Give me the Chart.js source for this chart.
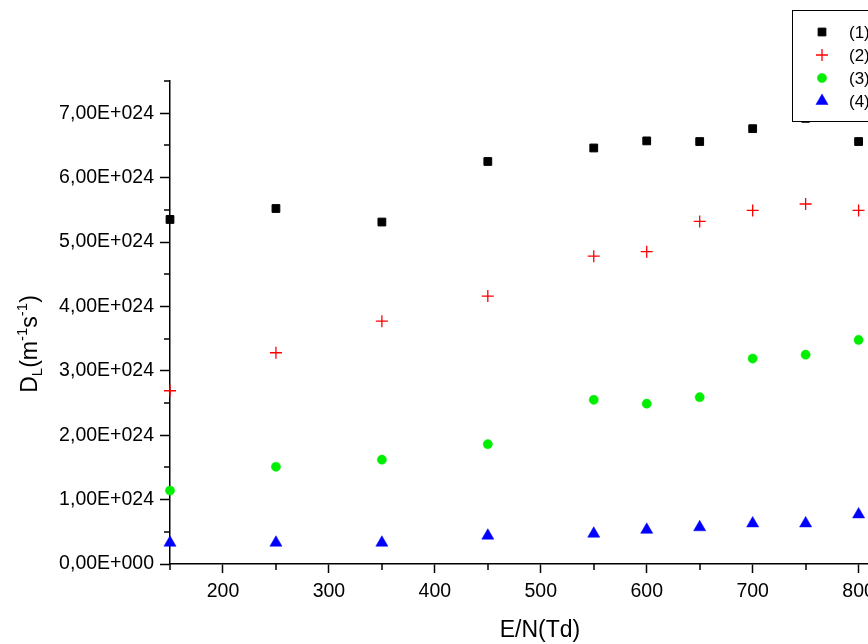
<!DOCTYPE html>
<html lang="pt">
<head>
    <meta charset="UTF-8">
    <script src="https://cdn.jsdelivr.net/npm/chart.js"></script>
    <title>D_L x E/N</title>
    <style>
        html, body { margin: 0; padding: 0; background: #fff; overflow: hidden; }
        #grafico { display: block; }
    </style>
</head>
<body>
    <canvas id="grafico" width="900" height="644"></canvas>

<script>
    // E/N (Td)
    const campos = [150, 250, 350, 450, 550, 600, 650, 700, 750, 800];

    // D_L (m-1 s-1)
    const serie1 = [5.35e24, 5.52e24, 5.31e24, 6.25e24, 6.46e24, 6.57e24, 6.56e24, 6.76e24, 6.92e24, 6.56e24];
    const serie2 = [2.69e24, 3.28e24, 3.77e24, 4.16e24, 4.78e24, 4.85e24, 5.32e24, 5.49e24, 5.59e24, 5.49e24];
    const serie3 = [1.14e24, 1.51e24, 1.62e24, 1.86e24, 2.55e24, 2.49e24, 2.59e24, 3.19e24, 3.25e24, 3.48e24];
    const serie4 = [0.33e24, 0.33e24, 0.33e24, 0.44e24, 0.47e24, 0.53e24, 0.57e24, 0.63e24, 0.63e24, 0.77e24];

    const nomes = ['(1)', '(2)', '(3)', '(4)'];

    const fonte = 'Liberation Sans, Arial, sans-serif';
</script>

<script>
    function pontos(valores) {
        return campos.map(function (x, i) { return { x: x, y: valores[i] }; });
    }

    // 7,00E+024
    function formato(v) {
        const n = Math.round(v / 1e24 * 2) / 2;
        if (n === 0) return '0,00E+000';
        return n.toFixed(2).replace('.', ',') + 'E+024';
    }

    function menorY(v) { return Math.round(v / 5e23) % 2 !== 0; }
    function menorX(v) { return v % 100 !== 0; }

    const dados = {
        datasets: [{
            label: nomes[0],
            data: pontos(serie1),
            pointStyle: 'rect',
            pointRadius: 5.5,
            borderWidth: 1,
            backgroundColor: '#000000',
            borderColor: '#000000'
        }, {
            label: nomes[1],
            data: pontos(serie2),
            pointStyle: 'cross',
            pointRadius: 6,
            borderWidth: 1.3,
            backgroundColor: '#ff0000',
            borderColor: '#ff0000'
        }, {
            label: nomes[2],
            data: pontos(serie3),
            pointStyle: 'circle',
            pointRadius: 4.6,
            borderWidth: 0.5,
            backgroundColor: '#00ee00',
            borderColor: '#00ee00'
        }, {
            label: nomes[3],
            data: pontos(serie4),
            pointStyle: 'triangle',
            pointRadius: 7,
            borderWidth: 0.5,
            backgroundColor: '#0000ff',
            borderColor: '#0000ff'
        }]
    };

    // ticks menores, titulos e legenda
    const extras = {
        id: 'extras',
        afterDraw: function (chart) {
            const ctx = chart.ctx;
            const sx = chart.scales.x;
            const sy = chart.scales.y;
            const area = chart.chartArea;

            ctx.save();
            ctx.strokeStyle = '#000';
            ctx.lineWidth = 1.5;
            ctx.beginPath();
            sx.ticks.forEach(function (t) {
                if (!menorX(t.value)) return;
                const px = Math.round(sx.getPixelForValue(t.value));
                ctx.moveTo(px, area.bottom);
                ctx.lineTo(px, area.bottom + 6);
            });
            sy.ticks.forEach(function (t) {
                if (!menorY(t.value)) return;
                const py = Math.round(sy.getPixelForValue(t.value));
                ctx.moveTo(area.left, py);
                ctx.lineTo(area.left - 6, py);
            });
            ctx.stroke();

            // titulo eixo x
            ctx.fillStyle = '#000';
            ctx.font = '23px ' + fonte;
            ctx.textAlign = 'center';
            ctx.textBaseline = 'alphabetic';
            ctx.fillText('E/N(Td)', 540, 637);

            // titulo eixo y: D_L(m^-1 s^-1)
            const partes = [
                { t: 'D', s: 23, dy: 0 },
                { t: 'L', s: 15, dy: 5 },
                { t: '(m', s: 23, dy: 0 },
                { t: '-1', s: 15, dy: -10 },
                { t: 's', s: 23, dy: 0 },
                { t: '-1', s: 15, dy: -10 },
                { t: ')', s: 23, dy: 0 }
            ];
            let total = 0;
            partes.forEach(function (p) {
                ctx.font = p.s + 'px ' + fonte;
                p.w = ctx.measureText(p.t).width;
                total += p.w;
            });
            ctx.translate(37, 344);
            ctx.rotate(-Math.PI / 2);
            ctx.textAlign = 'left';
            let pos = -total / 2;
            partes.forEach(function (p) {
                ctx.font = p.s + 'px ' + fonte;
                ctx.fillText(p.t, pos, p.dy);
                pos += p.w;
            });
            ctx.restore();

            // legenda
            ctx.save();
            ctx.fillStyle = '#fff';
            ctx.fillRect(792, 10, 120, 111);
            ctx.strokeStyle = '#000';
            ctx.lineWidth = 1;
            ctx.strokeRect(792.5, 10.5, 120, 111);
            chart.data.datasets.forEach(function (ds, i) {
                const y = 32 + i * 23;
                ctx.fillStyle = ds.backgroundColor;
                ctx.strokeStyle = ds.borderColor;
                ctx.lineWidth = ds.borderWidth;
                Chart.helpers.drawPoint(ctx, {
                    pointStyle: ds.pointStyle,
                    radius: ds.pointRadius,
                    borderWidth: ds.borderWidth,
                    rotation: 0
                }, 822, y);
                ctx.fillStyle = '#000';
                ctx.font = '17px ' + fonte;
                ctx.textAlign = 'left';
                ctx.textBaseline = 'middle';
                ctx.fillText(ds.label, 849, y + 1);
            });
            ctx.restore();
        }
    };

    const config = {
        type: 'scatter',
        data: dados,
        options: {
            responsive: false,
            animation: false,
            layout: { padding: { top: 81, right: 0, bottom: 0, left: 0 } },
            plugins: {
                legend: { display: false },
                tooltip: { enabled: false }
            },
            elements: { point: { hoverRadius: 6 } },
            datasets: { scatter: { clip: false } },
            scales: {
                x: {
                    type: 'linear',
                    min: 150,
                    max: 832,
                    afterFit: function (s) { s.height = 80; },
                    border: { display: true, color: '#000', width: 1.5 },
                    grid: {
                        drawOnChartArea: false,
                        tickLength: 9,
                        tickWidth: 1.5,
                        tickColor: function (c) {
                            return (c.tick && menorX(c.tick.value)) ? 'rgba(0,0,0,0)' : '#000';
                        }
                    },
                    ticks: {
                        stepSize: 50,
                        includeBounds: false,
                        maxRotation: 0,
                        autoSkip: false,
                        padding: 7,
                        color: '#000',
                        font: { family: fonte, size: 19.5 },
                        callback: function (v) { return menorX(v) ? '' : String(v); }
                    }
                },
                y: {
                    type: 'linear',
                    min: 0,
                    max: 7.5e24,
                    afterFit: function (s) { s.width = 170; },
                    border: { display: true, color: '#000', width: 1.5 },
                    grid: {
                        drawOnChartArea: false,
                        tickLength: 10,
                        tickWidth: 1.5,
                        tickColor: function (c) {
                            return (c.tick && menorY(c.tick.value)) ? 'rgba(0,0,0,0)' : '#000';
                        }
                    },
                    ticks: {
                        stepSize: 5e23,
                        includeBounds: false,
                        autoSkip: false,
                        padding: 6,
                        color: '#000',
                        font: { family: fonte, size: 19.5 },
                        callback: function (v) { return menorY(v) ? '' : formato(v); }
                    }
                }
            }
        },
        plugins: [extras]
    };
</script>

<script>
    const myChart = new Chart(
        document.getElementById('grafico'),
        config
    );
</script>
</body>
</html>
